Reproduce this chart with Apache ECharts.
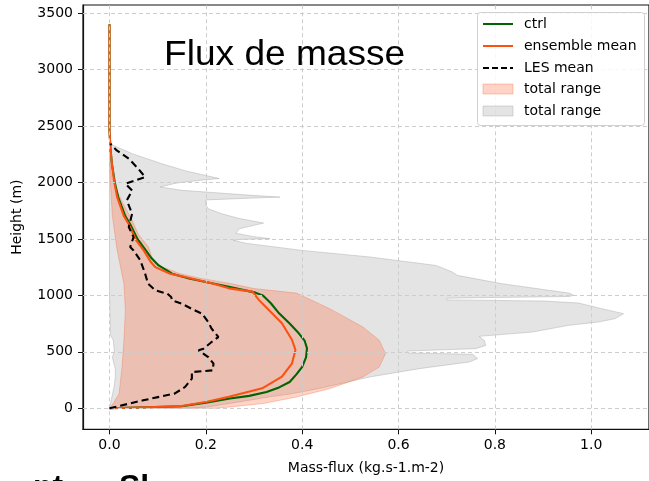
<!DOCTYPE html>
<html>
<head>
<meta charset="utf-8">
<script src="https://cdn.jsdelivr.net/npm/echarts@6/dist/echarts.min.js"></script>
<style>
  html, body { margin: 0; padding: 0; background: #fff; }
  #chart { width: 649px; height: 481px; }
</style>
</head>
<body>
<div id="chart"></div>
<script>
// Tick positions
const xTicks = [0, 0.2, 0.4, 0.6, 0.8, 1.0];
const yTicks = [0, 500, 1000, 1500, 2000, 2500, 3000, 3500];

// Profiles as [mass-flux, height]
const ctrl = [
  [0, 0], [0.15, 18], [0.2, 50], [0.25, 86], [0.29, 110], [0.326, 144], [0.352, 185],
  [0.374, 233], [0.388, 300], [0.400, 366], [0.408, 450], [0.410, 531], [0.405, 600],
  [0.393, 664], [0.374, 750], [0.352, 841], [0.335, 930], [0.318, 1000], [0.303, 1024],
  [0.248, 1075], [0.22, 1100], [0.165, 1150], [0.13, 1192], [0.102, 1265], [0.087, 1330],
  [0.075, 1400], [0.058, 1500], [0.043, 1630], [0.033, 1700], [0.025, 1790], [0.018, 1870],
  [0.011, 2000], [0.005, 2165], [0.002, 2300], [0, 2460], [0, 3400]
];

const ensembleMean = [
  [0, 0], [0.147, 18], [0.2, 55], [0.248, 103], [0.317, 177], [0.358, 280], [0.379, 398],
  [0.386, 516], [0.379, 605], [0.358, 753], [0.324, 900], [0.31, 960], [0.297, 1033],
  [0.248, 1062], [0.216, 1103], [0.157, 1162], [0.126, 1192], [0.095, 1250], [0.085, 1300],
  [0.071, 1398], [0.055, 1490], [0.04, 1630], [0.03, 1700], [0.016, 1870], [0.01, 2000],
  [0.005, 2165], [0.002, 2300], [0, 2460], [0, 3400]
];

const lesMean = [
  [0, 0], [0.07, 71], [0.135, 130], [0.157, 189], [0.171, 263], [0.171, 321], [0.214, 336],
  [0.216, 395], [0.205, 454], [0.185, 513], [0.195, 528], [0.212, 587], [0.226, 631],
  [0.212, 705], [0.205, 764], [0.192, 838], [0.17, 882], [0.15, 926], [0.13, 956],
  [0.128, 985], [0.12, 1015], [0.095, 1044], [0.08, 1103], [0.074, 1192], [0.064, 1310],
  [0.05, 1398], [0.043, 1428], [0.05, 1516], [0.04, 1605], [0.047, 1723], [0.036, 1841],
  [0.047, 1929], [0.033, 1989], [0.074, 2047], [0.06, 2120], [0.04, 2210], [0.015, 2283],
  [0.002, 2342]
];

// Ensemble spread (min / max)
const ensMin = [
  [0, 0], [0.008, 44], [0.02, 130], [0.026, 365], [0.03, 600], [0.033, 867], [0.03, 1103],
  [0.016, 1398], [0.006, 1700], [0.002, 1990], [0, 2200]
];
const ensMax = [
  [0.22, 0], [0.25, 12], [0.319, 42], [0.388, 100], [0.457, 174], [0.526, 277], [0.56, 365],
  [0.573, 484], [0.56, 602], [0.526, 720], [0.457, 882], [0.388, 1020], [0.3, 1060],
  [0.25, 1106], [0.19, 1150], [0.147, 1192], [0.11, 1250], [0.09, 1310], [0.081, 1428],
  [0.06, 1540], [0.047, 1664], [0.03, 1800], [0.015, 1929], [0.005, 2050], [0, 2200]
];

// LES spread (min / max)
const lesMin = [
  [0, 0], [0.005, 100], [0.01, 200], [0.012, 277], [0.012, 350], [0.006, 450], [0.01, 513],
  [0.008, 600], [0.002, 650], [0, 1000], [0, 2000], [0, 2342]
];
const lesMax = [
  [0.15, 0], [0.2, 10], [0.26, 50], [0.33, 100], [0.38, 130], [0.44, 180], [0.51, 248],
  [0.54, 277], [0.643, 351], [0.747, 410], [0.764, 440], [0.754, 478], [0.62, 490],
  [0.619, 507], [0.76, 528], [0.781, 557], [0.778, 602], [0.767, 637], [0.878, 675],
  [0.954, 735], [1.015, 764], [1.05, 794], [1.067, 838], [1.022, 882], [0.974, 932],
  [0.9, 950], [0.70, 960], [0.70, 975], [0.954, 990], [0.964, 1000], [0.954, 1020],
  [0.815, 1103], [0.722, 1177], [0.712, 1206], [0.678, 1265], [0.54, 1340], [0.4, 1398],
  [0.36, 1420], [0.285, 1460], [0.257, 1487], [0.27, 1495], [0.333, 1502], [0.3, 1520],
  [0.262, 1550], [0.27, 1590], [0.3, 1620], [0.32, 1640], [0.27, 1680], [0.235, 1720],
  [0.205, 1767], [0.2, 1800], [0.2, 1845], [0.3, 1862], [0.354, 1870], [0.28, 1890],
  [0.2, 1915], [0.15, 1930], [0.105, 1960], [0.14, 1995], [0.19, 2020], [0.228, 2035],
  [0.215, 2047], [0.16, 2100], [0.109, 2165], [0.05, 2250], [0, 2342]
];

function rangeSeries(name, lower, upper, fill, stroke, z) {
  return {
    type: 'custom',
    name: name,
    z: z,
    silent: true,
    data: [[0, 0]],
    renderItem: function (params, api) {
      const pts = lower.map(p => api.coord(p))
        .concat(upper.slice().reverse().map(p => api.coord(p)));
      return {
        type: 'polygon',
        shape: { points: pts },
        style: { fill: fill, stroke: stroke, lineWidth: 1 }
      };
    }
  };
}

function profileSeries(name, data, color, type, z) {
  return {
    type: 'line',
    name: name,
    data: data,
    z: z,
    showSymbol: false,
    symbol: 'none',
    silent: true,
    lineStyle: { color: color, width: 2.1, type: type },
    itemStyle: { color: color }
  };
}

const GREEN = '#006400';
const ORANGE = '#fb5212';
const PINK = 'rgba(255,92,40,0.27)';
const PINK_EDGE = 'rgba(245,110,70,0.35)';
const GREY = 'rgba(128,128,128,0.21)';
const GREY_EDGE = 'rgba(150,150,150,0.35)';
const FONT = 'DejaVu Sans';

const legendRows = [
  { kind: 'line', color: GREEN, dash: null, text: 'ctrl', y: 24 },
  { kind: 'line', color: ORANGE, dash: null, text: 'ensemble mean', y: 46 },
  { kind: 'line', color: '#000', dash: [6, 3], text: 'LES mean', y: 68 },
  { kind: 'patch', color: PINK, edge: PINK_EDGE, text: 'total range', y: 89 },
  { kind: 'patch', color: GREY, edge: GREY_EDGE, text: 'total range', y: 111 }
];

const legendGraphics = [{
  type: 'rect', z: 100,
  shape: { x: 477.5, y: 12.5, width: 167, height: 113, r: 3 },
  style: { fill: 'rgba(255,255,255,0.85)', stroke: '#d0d0d0', lineWidth: 1 }
}];
legendRows.forEach(r => {
  if (r.kind === 'line') {
    legendGraphics.push({
      type: 'line', z: 101,
      shape: { x1: 483, y1: r.y, x2: 513, y2: r.y },
      style: { stroke: r.color, lineWidth: 2, lineDash: r.dash }
    });
  } else {
    legendGraphics.push({
      type: 'rect', z: 101,
      shape: { x: 483, y: r.y - 5, width: 30, height: 10 },
      style: { fill: r.color, stroke: r.edge, lineWidth: 1 }
    });
  }
  legendGraphics.push({
    type: 'text', z: 101, x: 524, y: r.y,
    style: { text: r.text, font: '14px "DejaVu Sans"', fill: '#000', verticalAlign: 'middle' }
  });
});

const chart = echarts.init(document.getElementById('chart'), null, { renderer: 'canvas' });

chart.setOption({
  animation: false,
  backgroundColor: '#fff',
  grid: {
    left: 83, top: 5, width: 569, height: 424.3,
    show: true, borderColor: '#111', borderWidth: 1.2, backgroundColor: 'transparent'
  },
  xAxis: {
    type: 'value', min: -0.055, max: 1.12,
    name: 'Mass-flux (kg.s-1.m-2)', nameLocation: 'middle', nameGap: 32,
    nameTextStyle: { fontFamily: FONT, fontSize: 14, color: '#000' },
    axisLine: { show: true, onZero: false, lineStyle: { color: '#111', width: 1.2 } },
    axisTick: { show: true, customValues: xTicks, length: 5, lineStyle: { color: '#111' } },
    axisLabel: {
      customValues: xTicks, margin: 9, color: '#000', fontFamily: FONT, fontSize: 14,
      formatter: v => v.toFixed(1)
    },
    splitLine: { show: false }
  },
  yAxis: {
    type: 'value', min: -186, max: 3571,
    name: 'Height (m)', nameLocation: 'middle', nameGap: 59, nameRotate: 90,
    nameTextStyle: { fontFamily: FONT, fontSize: 14, color: '#000' },
    axisLine: { show: true, onZero: false, lineStyle: { color: '#111', width: 1.2 } },
    axisTick: { show: true, customValues: yTicks, length: 5, lineStyle: { color: '#111' } },
    axisLabel: {
      customValues: yTicks, margin: 10, color: '#000', fontFamily: FONT, fontSize: 14,
      formatter: v => String(v)
    },
    splitLine: { show: false }
  },
  graphic: [
    {
      type: 'text', x: 164, y: 55.5, z: 50, scaleX: 1.06,
      style: { text: 'Flux de masse', font: '35px "Liberation Sans"', fill: '#000', verticalAlign: 'middle' }
    },
    {
      type: 'text', x: 33, y: 488, z: 50,
      style: { text: 'nt', font: 'bold 32px "Liberation Sans"', fill: '#000', verticalAlign: 'middle' }
    },
    {
      type: 'text', x: 119, y: 488, z: 50,
      style: { text: 'Sl', font: 'bold 32px "Liberation Sans"', fill: '#000', verticalAlign: 'middle' }
    }
  ].concat(legendGraphics),
  series: [
    rangeSeries('total range (LES)', lesMin, lesMax, GREY, GREY_EDGE, 1),
    rangeSeries('total range (ensemble)', ensMin, ensMax, PINK, PINK_EDGE, 1),
    {
      type: 'line', name: 'grid', data: [], z: 2, silent: true,
      markLine: {
        silent: true, symbol: ['none', 'none'], animation: false,
        label: { show: false },
        lineStyle: { color: '#cdcdcd', width: 1, type: [4, 3] },
        data: xTicks.map(v => ({ xAxis: v })).concat(yTicks.map(v => ({ yAxis: v })))
      }
    },
    profileSeries('ctrl', ctrl, GREEN, 'solid', 3),
    profileSeries('ensemble mean', ensembleMean, ORANGE, 'solid', 4),
    profileSeries('LES mean', lesMean, '#000', [7, 4], 5)
  ]
});
</script>
</body>
</html>
